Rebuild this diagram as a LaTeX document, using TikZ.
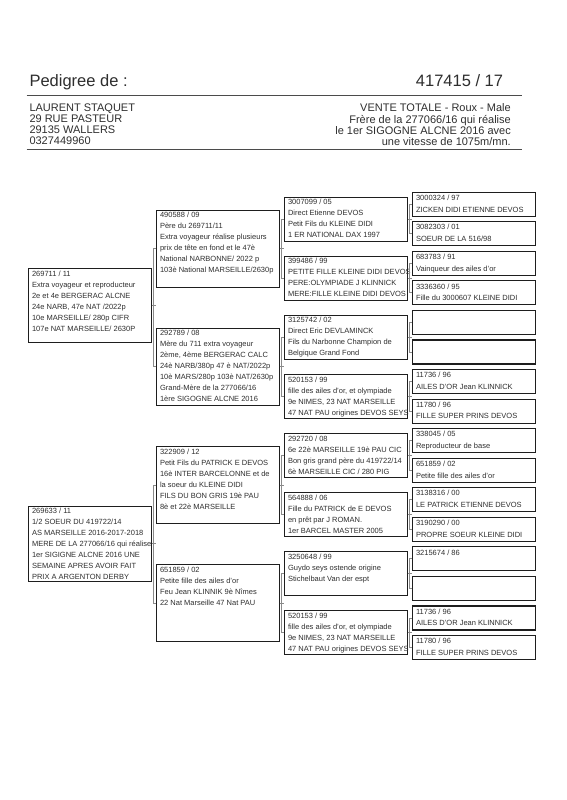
\documentclass[tikz,border=0pt]{standalone}
\usepackage{fontspec}
\setmainfont{Liberation Sans}
\usetikzlibrary{calc}
\definecolor{pedink}{HTML}{2E2E2E}
\definecolor{pedframe}{HTML}{1E1E1E}
\definecolor{pedlinkc}{HTML}{8A8A8A}
\newcommand{\pedtext}[2]{\parbox[t][#1][t]{115pt}{\begin{tabular}[t]{@{}l@{}}#2\end{tabular}}}
\tikzset{
  pedbox/.style={draw=pedframe, line width=1.1pt, inner xsep=4pt, inner ysep=0pt, anchor=north west, text=pedink, font=\fontsize{7.5}{11}\selectfont},
  pedboxsmall/.style={pedbox, font=\fontsize{7.5}{11.7}\selectfont},
  pedlink/.style={draw=pedlinkc, line width=0.9pt},
  pedrule/.style={draw=pedframe!80, line width=1.2pt},
  headbig/.style={inner sep=0pt, text=pedink, font=\fontsize{16.5}{18}\selectfont},
  headtxt/.style={inner sep=0pt, text=pedink, font=\fontsize{11}{11.1}\selectfont}
}
\begin{document}
\begin{tikzpicture}[x=1pt, y=-1pt]
  \useasboundingbox (0,0) rectangle (566,800);

  % header
  \node[headbig, anchor=base west] (title) at (29.3,86) {Pedigree de :};
  \node[headbig, anchor=base east] (ringno) at (503.3,86) {417415 / 17};
  \draw[pedrule] (26.7,95.7) -- (521.7,95.7);
  \node[headtxt, anchor=north west, align=left] (owner) at (29.3,103.8) {LAURENT STAQUET\\29 RUE PASTEUR\\29135 WALLERS\\0327449960};
  \node[headtxt, anchor=north east, align=right] (remark) at (511,103.8) {VENTE TOTALE - Roux - Male\\Frère de la 277066/16 qui réalise\\le 1er SIGOGNE ALCNE 2016 avec\\une vitesse de 1075m/mn.};
  \draw[pedrule] (26.7,149.3) -- (521.7,149.3);

  % parents
  \node[pedbox] (p) at (27.5,268.3) {\pedtext{74pt}{269711 / 11\\Extra voyageur et reproducteur\\2e et 4e BERGERAC ALCNE\\24e NARB, 47e NAT /2022p\\10e MARSEILLE/ 280p CIFR\\107e NAT MARSEILLE/ 2630P}};
  \node[pedbox] (m) at (27.5,505.5) {\pedtext{75.5pt}{269633 / 11\\1/2 SOEUR DU 419722/14\\AS MARSEILLE 2016-2017-2018\\MERE DE LA 277066/16 qui réalise\\1er SIGIGNE ALCNE 2016 UNE\\SEMAINE APRES AVOIR FAIT\\PRIX A ARGENTON DERBY}};

  % grandparents
  \node[pedbox] (pp) at (155.5,209.5) {\pedtext{77pt}{490588 / 09\\Père du 269711/11\\Extra voyageur réalise plusieurs\\prix de tête en fond et le 47è\\National NARBONNE/ 2022 p\\103è National MARSEILLE/2630p}};
  \node[pedbox] (pm) at (155.5,327.7) {\pedtext{77pt}{292789 / 08\\Mère du 711 extra voyageur\\2ème, 4ème BERGERAC CALC\\24è NARB/380p 47 è NAT/2022p\\10è MARS/280p 103è NAT/2630p\\Grand-Mère de la 277066/16\\1ère SIGOGNE ALCNE 2016}};
  \node[pedbox] (mp) at (155.5,445.9) {\pedtext{77pt}{322909 / 12\\Petit Fils du PATRICK E DEVOS\\16è INTER BARCELONNE et de\\la soeur du KLEINE DIDI\\FILS DU BON GRIS 19è PAU\\8è et 22è MARSEILLE}};
  \node[pedbox] (mm) at (155.5,564.1) {\pedtext{77pt}{651859 / 02\\Petite fille des ailes d'or\\Feu Jean KLINNIK 9è Nîmes\\22 Nat Marseille 47 Nat PAU}};

  % great-grandparents
  \node[pedbox] (ppp) at (283.5,196.5) {\pedtext{44pt}{3007099 / 05\\Direct Etienne DEVOS\\Petit Fils du KLEINE DIDI\\1 ER NATIONAL DAX 1997}};
  \node[pedbox] (ppm) at (283.5,255.6) {\pedtext{44pt}{399486 / 99\\PETITE FILLE KLEINE DIDI DEVOS\\PERE:OLYMPIADE J KLINNICK\\MERE:FILLE KLEINE DIDI DEVOS}};
  \node[pedbox] (pmp) at (283.5,314.7) {\pedtext{44pt}{3125742 / 02\\Direct Eric DEVLAMINCK\\Fils du Narbonne Champion de\\Belgique Grand Fond}};
  \node[pedbox] (pmm) at (283.5,373.8) {\pedtext{44pt}{520153 / 99\\fille des ailes d'or, et olympiade\\9e NIMES, 23 NAT MARSEILLE\\47 NAT PAU origines DEVOS SEYS}};
  \node[pedbox] (mpp) at (283.5,432.9) {\pedtext{44pt}{292720 / 08\\6e 22è MARSEILLE 19è PAU CIC\\Bon gris grand père du 419722/14\\6è MARSEILLE CIC / 280 PIG}};
  \node[pedbox] (mpm) at (283.5,492.0) {\pedtext{44pt}{564888 / 06\\Fille du PATRICK de E DEVOS\\en prêt par J ROMAN.\\1er BARCEL MASTER 2005}};
  \node[pedbox] (mmp) at (283.5,551.1) {\pedtext{44pt}{3250648 / 99\\Guydo seys ostende origine\\Stichelbaut Van der espt}};
  \node[pedbox] (mmm) at (283.5,610.2) {\pedtext{44pt}{520153 / 99\\fille des ailes d'or, et olympiade\\9e NIMES, 23 NAT MARSEILLE\\47 NAT PAU origines DEVOS SEYS}};

  % fourth generation
  \node[pedboxsmall] (pppp) at (411.5,191.7) {\pedtext{24pt}{3000324 / 97\\ZICKEN DIDI ETIENNE DEVOS}};
  \node[pedboxsmall] (pppm) at (411.5,221.25) {\pedtext{24pt}{3082303 / 01\\SOEUR DE LA 516/98}};
  \node[pedboxsmall] (ppmp) at (411.5,250.8) {\pedtext{24pt}{683783 / 91\\Vainqueur des ailes d'or}};
  \node[pedboxsmall] (ppmm) at (411.5,280.35) {\pedtext{24pt}{3336360 / 95\\Fille du 3000607 KLEINE DIDI}};
  \node[pedboxsmall] (pmpp) at (411.5,309.9) {\pedtext{24pt}{}};
  \node[pedboxsmall] (pmpm) at (411.5,339.45) {\pedtext{24pt}{}};
  \node[pedboxsmall] (pmmp) at (411.5,369.0) {\pedtext{24pt}{11736 / 96\\AILES D'OR Jean KLINNICK}};
  \node[pedboxsmall] (pmmm) at (411.5,398.55) {\pedtext{24pt}{11780 / 96\\FILLE SUPER PRINS DEVOS}};
  \node[pedboxsmall] (mppp) at (411.5,428.1) {\pedtext{24pt}{338045 / 05\\Reproducteur de base}};
  \node[pedboxsmall] (mppm) at (411.5,457.65) {\pedtext{24pt}{651859 / 02\\Petite fille des ailes d'or}};
  \node[pedboxsmall] (mpmp) at (411.5,487.2) {\pedtext{24pt}{3138316 / 00\\LE PATRICK ETIENNE DEVOS}};
  \node[pedboxsmall] (mpmm) at (411.5,516.75) {\pedtext{24pt}{3190290 / 00\\PROPRE SOEUR KLEINE DIDI}};
  \node[pedboxsmall] (mmpp) at (411.5,546.3) {\pedtext{24pt}{3215674 / 86}};
  \node[pedboxsmall] (mmpm) at (411.5,575.85) {\pedtext{24pt}{}};
  \node[pedboxsmall] (mmmp) at (411.5,605.4) {\pedtext{24pt}{11736 / 96\\AILES D'OR Jean KLINNICK}};
  \node[pedboxsmall] (mmmm) at (411.5,634.95) {\pedtext{24pt}{11780 / 96\\FILLE SUPER PRINS DEVOS}};

  % brackets parent -> sire/dam
  \foreach \n in {p,m,pp,pm,mp,mm,ppp,ppm,pmp,pmm,mpp,mpm,mmp,mmm} {
    \draw[pedlink] (\n p.west) -- ++(-2.5pt,0) |- (\n m.west);
    \draw[pedlink] (\n.east) -- (\n.east -| \n p.west);
  }
\end{tikzpicture}
\end{document}
